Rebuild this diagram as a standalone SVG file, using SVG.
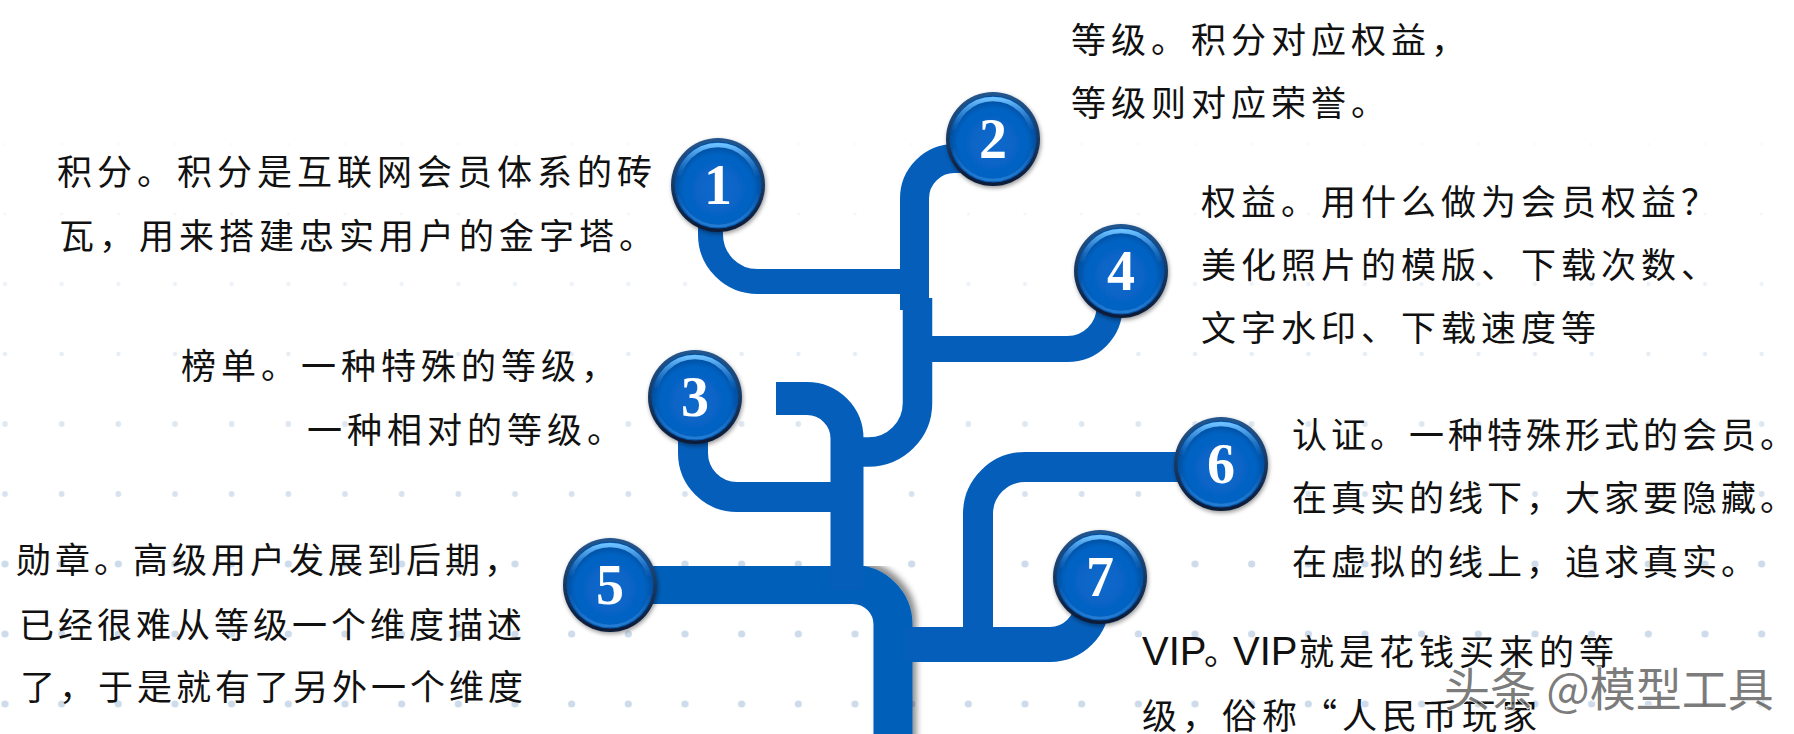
<svg xmlns="http://www.w3.org/2000/svg" xmlns:xlink="http://www.w3.org/1999/xlink" width="1794" height="734" viewBox="0 0 1794 734">
<style>
.t{font-family:"Noto Sans CJK SC","Noto Sans",sans-serif;font-size:35px;letter-spacing:5px;fill:#111;}
.t4{letter-spacing:4px;}
.num{font-family:"Liberation Serif","DejaVu Serif",serif;font-weight:bold;font-size:56px;fill:#fff;text-anchor:middle;}
.lat{font-family:"Liberation Sans","DejaVu Sans",sans-serif;font-size:40px;letter-spacing:0;}
.wm{font-family:"Noto Sans CJK SC","Noto Sans",sans-serif;font-size:46px;fill:#4a4a4a;fill-opacity:0.72;stroke:#fff;stroke-width:1.5;paint-order:stroke;}
.dot{fill:#cddbea;}
</style>
<defs>
  <pattern id="d1" patternUnits="userSpaceOnUse" x="-23.333" y="39" width="56.667" height="70"><circle class="dot" cx="28.333" cy="35" r="1.6"/></pattern>
  <pattern id="d2" patternUnits="userSpaceOnUse" x="-23.333" y="39" width="56.667" height="70"><circle class="dot" cx="28.333" cy="35" r="2.2"/></pattern>
  <pattern id="d3" patternUnits="userSpaceOnUse" x="-23.333" y="39" width="56.667" height="70"><circle class="dot" cx="28.333" cy="35" r="2.9"/></pattern>
  <pattern id="d4" patternUnits="userSpaceOnUse" x="-23.333" y="39" width="56.667" height="70"><circle class="dot" cx="28.333" cy="35" r="3.6"/></pattern>
  <filter id="pipeShadow" x="-10%" y="-10%" width="130%" height="130%">
    <feDropShadow dx="4" dy="-4" stdDeviation="3" flood-color="#000" flood-opacity="0.45"/>
  </filter>
  <filter id="btnShadow" x="-20%" y="-20%" width="140%" height="150%">
    <feDropShadow dx="1" dy="2" stdDeviation="2" flood-color="#000" flood-opacity="0.4"/>
  </filter>
  <linearGradient id="rim" x1="0" y1="0" x2="0" y2="1">
    <stop offset="0" stop-color="#24578f"/>
    <stop offset="1" stop-color="#0b1a36"/>
  </linearGradient>
  <radialGradient id="body" cx="0.5" cy="0.55" r="0.5">
    <stop offset="0" stop-color="#0a68cc"/>
    <stop offset="0.8" stop-color="#0562c2"/>
    <stop offset="1" stop-color="#044f9f"/>
  </radialGradient>
  <linearGradient id="hl" x1="0" y1="0" x2="0" y2="1">
    <stop offset="0" stop-color="#6cc0ff" stop-opacity="1"/>
    <stop offset="0.4" stop-color="#3a95ee" stop-opacity="0"/>
  </linearGradient>
  <linearGradient id="hlb" x1="0" y1="0" x2="0" y2="1">
    <stop offset="0.6" stop-color="#3a95ee" stop-opacity="0"/>
    <stop offset="1" stop-color="#3a8fe0" stop-opacity="0.6"/>
  </linearGradient>
  <g id="btn" filter="url(#btnShadow)">
    <circle r="47" fill="url(#rim)"/>
    <circle r="43.5" fill="url(#body)"/>
    <circle r="40" fill="none" stroke="url(#hl)" stroke-width="4.5"/>
    <circle r="41" fill="none" stroke="url(#hlb)" stroke-width="2.5"/>
  </g>
</defs>

<rect width="1794" height="734" fill="#fff"/>
<g id="dots">
  <rect x="0" y="109" width="1794" height="70" fill="url(#d1)" opacity="0.15"/>
  <rect x="0" y="179" width="1794" height="70" fill="url(#d1)" opacity="0.25"/>
  <rect x="0" y="249" width="1794" height="70" fill="url(#d2)" opacity="0.35"/>
  <rect x="0" y="319" width="1794" height="70" fill="url(#d2)" opacity="0.5"/>
  <rect x="0" y="389" width="1794" height="70" fill="url(#d3)" opacity="0.65"/>
  <rect x="0" y="459" width="1794" height="70" fill="url(#d3)" opacity="0.8"/>
  <rect x="0" y="529" width="1794" height="205" fill="url(#d4)"/>
</g>

<g id="connectors" fill="none" stroke="#055EB9" stroke-linecap="butt">
  <path filter="url(#pipeShadow)" stroke-width="39" d="M 605 584.5 H 853 A 40 40 0 0 1 893 624.5 V 760"/>
  <path stroke-width="29" d="M 914.5 310 V 198.5 A 40 40 0 0 1 954.5 158.5 H 990"/>
  <path stroke-width="29.5" d="M 917.5 298 V 403 A 49 49 0 0 1 868.5 452 H 845"/>
  <path stroke-width="25" d="M 710.5 190 V 234.5 A 47 47 0 0 0 757.5 281.5 H 915"/>
  <path stroke-width="26" d="M 917 349 H 1067.5 A 42 42 0 0 0 1109.5 307 V 280"/>
  <path stroke-width="33" d="M 776 398.5 H 807 A 40 40 0 0 1 847 438.5 V 590"/>
  <path stroke-width="30" d="M 693 400 V 453 A 44 44 0 0 0 737 497 H 850"/>
  <path stroke-width="35" d="M 905 644.5 H 1050 A 42 42 0 0 0 1092 602.5 V 590"/>
  <path stroke-width="30" d="M 978 650 V 514 A 47 47 0 0 1 1025 467 H 1210"/>
</g>

<g id="node1">
  <use xlink:href="#btn" href="#btn" x="718" y="185"/>
  <text class="num" x="718" y="204">1</text>
  <text class="t" x="57" y="185">积分。积分是互联网会员体系的砖</text>
  <text class="t" x="59" y="249">瓦，用来搭建忠实用户的金字塔。</text>
</g>
<g id="node2">
  <use xlink:href="#btn" href="#btn" x="993" y="139"/>
  <text class="num" x="993" y="158">2</text>
  <text class="t" x="1071" y="53">等级。积分对应权益，</text>
  <text class="t" x="1071" y="116">等级则对应荣誉。</text>
</g>
<g id="node3">
  <use xlink:href="#btn" href="#btn" x="695" y="397"/>
  <text class="num" x="695" y="416">3</text>
  <text class="t" x="181" y="379">榜单。一种特殊的等级，</text>
  <text class="t" x="307" y="443">一种相对的等级。</text>
</g>
<g id="node4">
  <use xlink:href="#btn" href="#btn" x="1121" y="271"/>
  <text class="num" x="1121" y="290">4</text>
  <text class="t" x="1201" y="215">权益。用什么做为会员权益？</text>
  <text class="t" x="1201" y="278">美化照片的模版、下载次数、</text>
  <text class="t" x="1201" y="341">文字水印、下载速度等</text>
</g>
<g id="node5">
  <use xlink:href="#btn" href="#btn" x="610" y="585"/>
  <text class="num" x="610" y="604">5</text>
  <text class="t t4" x="16" y="573">勋章。高级用户发展到后期，</text>
  <text class="t t4" x="19" y="638">已经很难从等级一个维度描述</text>
  <text class="t t4" x="20" y="700">了，于是就有了另外一个维度</text>
</g>
<g id="node6">
  <use xlink:href="#btn" href="#btn" x="1221" y="464"/>
  <text class="num" x="1221" y="483">6</text>
  <text class="t t4" x="1292" y="448">认证。一种特殊形式的会员。</text>
  <text class="t t4" x="1292" y="511">在真实的线下，大家要隐藏。</text>
  <text class="t t4" x="1292" y="575">在虚拟的线上，追求真实。</text>
</g>
<g id="node7">
  <use xlink:href="#btn" href="#btn" x="1100" y="577"/>
  <text class="num" x="1100" y="596">7</text>
  <text class="t" y="665"><tspan class="lat" x="1142">VIP</tspan><tspan x="1204" letter-spacing="0">。</tspan><tspan class="lat" x="1233">VIP</tspan><tspan x="1299">就是花钱买来的等</tspan></text>
  <text class="t" x="1142" y="729">级，俗称“人民币玩家</text>
</g>

<text class="wm" x="1444" y="706">头条 @模型工具</text>
</svg>
